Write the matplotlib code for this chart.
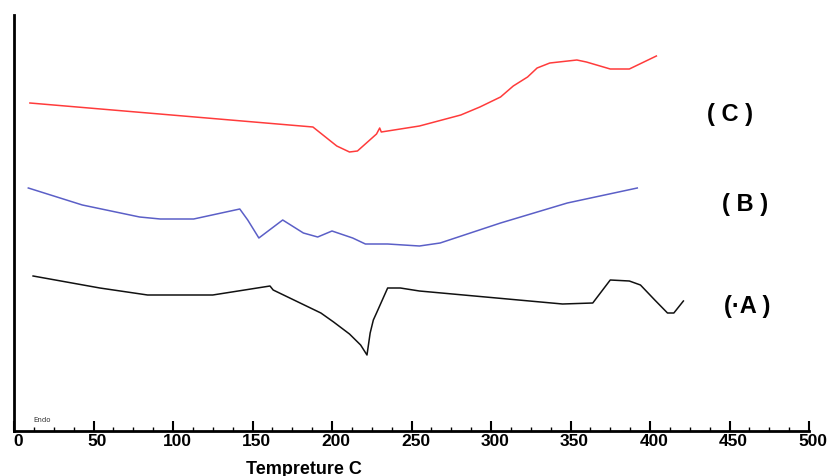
import matplotlib
matplotlib.use("Agg")
import matplotlib.pyplot as plt
import matplotlib.transforms as mtransforms
from matplotlib.ticker import MultipleLocator

# Temperature (C) and signal height (arbitrary units)
temp_a = [12, 54, 84, 125, 161, 163, 193, 201, 211, 218, 222, 224, 226, 228, 235, 243, 255, 345, 364, 375, 387, 394, 403, 411, 415, 421]
sig_a = [155, 143, 136, 136, 145, 141, 118, 109, 97, 86, 76, 98, 111, 118, 143, 143, 140, 127, 128, 151, 150, 146, 131, 118, 118, 130]

temp_b = [9, 43, 79, 92, 113, 142, 147, 154, 169, 182, 191, 200, 213, 221, 235, 255, 268, 306, 348, 392]
sig_b = [243, 226, 214, 212, 212, 222, 211, 193, 211, 198, 194, 200, 193, 187, 187, 185, 188, 208, 228, 243]

temp_c = [10, 188, 203, 211, 216, 228, 230, 231, 255, 281, 293, 306, 314, 323, 329, 337, 354, 360, 375, 387, 404]
sig_c = [328, 304, 285, 279, 280, 297, 303, 299, 305, 316, 324, 334, 345, 354, 363, 368, 371, 369, 362, 362, 375]

curve_labels = ["(·A )", "( B )", "( C )"]
label_pos = [(461, 125), (460, 226), (450, 316)]

fig = plt.figure(figsize=(8.3, 4.76), dpi=100)
ax = fig.add_axes([14 / 830, 45 / 476, 795 / 830, 416 / 476])

ax.plot(temp_a, sig_a, color="#111111", lw=1.1)
ax.plot(temp_b, sig_b, color="#5b5fc7", lw=1.1)
ax.plot(temp_c, sig_c, color="#ff3b3b", lw=1.1)

for text, (x, y) in zip(curve_labels, label_pos):
    ax.text(x, y, text, fontsize=17, fontweight="bold", ha="center", va="center",
            family="Liberation Sans")

ax.text(12, 9, "Endo", fontsize=5, color="#333333")

ax.set_xlim(0, 500)
ax.set_ylim(0, 416)
ax.xaxis.set_major_locator(MultipleLocator(50))
ax.xaxis.set_minor_locator(MultipleLocator(12.5))
ax.set_yticks([])
ax.tick_params(axis="x", which="major", direction="in", length=7, width=1.5, pad=2)
ax.tick_params(axis="x", which="minor", direction="in", length=3, width=1)
shift = mtransforms.ScaledTranslation(4 / 100, 0, fig.dpi_scale_trans)
for lab in ax.get_xticklabels():
    lab.set_fontweight("bold")
    lab.set_fontsize(12.5)
    lab.set_family("Liberation Sans")
    lab.set_transform(lab.get_transform() + shift)

for side in ["top", "right"]:
    ax.spines[side].set_visible(False)
ax.spines["left"].set_linewidth(2)
ax.spines["bottom"].set_linewidth(2)

fig.text(304 / 830, 1 - 469 / 476, "Tempreture C", fontsize=13, fontweight="bold",
         ha="center", va="center", family="Liberation Sans")

fig.savefig("out.png", dpi=100)
